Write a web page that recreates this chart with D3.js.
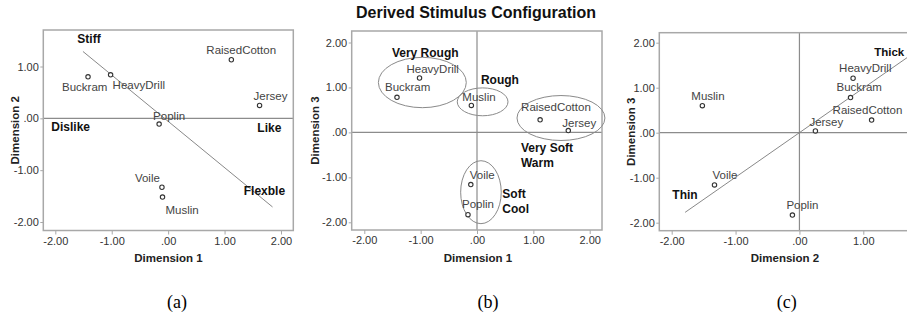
<!DOCTYPE html>
<html>
<head>
<meta charset="utf-8">
<script src="https://cdn.jsdelivr.net/npm/d3@7"></script>
<style>
  html, body { margin: 0; padding: 0; background: #fff; }
  svg { display: block; }
</style>
</head>
<body>
<svg id="chart" width="907" height="317"></svg>
<script>
// ---------------- DATA ----------------
const fabrics = ["Buckram", "HeavyDrill", "RaisedCotton", "Jersey", "Poplin", "Voile", "Muslin"];
const dim1 = [-1.42, -1.02, 1.12, 1.62, -0.16, -0.11, -0.10];
const dim2 = [0.80, 0.84, 1.13, 0.25, -0.11, -1.33, -1.52];
const dim3 = [0.78, 1.21, 0.28, 0.04, -1.83, -1.16, 0.60];

const tickValues = [-2, -1, 0, 1, 2];
const tickLabels = ["-2.00", "-1.00", ".00", "1.00", "2.00"];

// annotation words (data coordinates of their left/middle anchor)
const annotA = [
  { text: "Stiff",   x: -1.61, y: 1.53 },
  { text: "Dislike", x: -2.07, y: -0.17 },
  { text: "Like",    x: 1.58,  y: -0.19 },
  { text: "Flexble", x: 1.34,  y: -1.40 }
];
const annotB = [
  { text: "Very Rough", x: -1.51, y: 1.76 },
  { text: "Rough",      x: 0.07,  y: 1.16 },
  { text: "Very Soft",  x: 0.78,  y: -0.35 },
  { text: "Warm",       x: 0.78,  y: -0.68 },
  { text: "Soft",       x: 0.45,  y: -1.37 },
  { text: "Cool",       x: 0.45,  y: -1.70 }
];
const annotC = [
  { text: "Thin",  x: -1.99, y: -1.38 },
  { text: "Thick", x: 1.17,  y: 1.80 }
];
// group ellipses in panel (b), data units
const ellipsesB = [
  { cx: -0.97, cy: 1.11, rx: 0.78, ry: 0.56 },
  { cx: 0.10,  cy: 0.68, rx: 0.45, ry: 0.31 },
  { cx: 1.49,  cy: 0.32, rx: 0.78, ry: 0.50 },
  { cx: 0.07,  cy: -1.33, rx: 0.36, ry: 0.70 }
];
// fitted direction lines (data units)
const lineA = [[-1.51, 1.29], [1.85, -1.71]];
const lineC = [[-1.79, -1.77], [1.95, 1.93]];

// ---------------- LAYOUT ----------------
// label offsets in px per panel: [dx, dy]
const offA = { Buckram: [-26, 10], HeavyDrill: [2, 10], RaisedCotton: [-25, -10], Jersey: [-6, -9],
               Poplin: [-6, -8], Voile: [-27, -9], Muslin: [3, 13] };
const offB = { Buckram: [-12, -10], HeavyDrill: [-13, -9], RaisedCotton: [-19, -13], Jersey: [-6, -8],
               Poplin: [-6, -11], Voile: [-1, -10], Muslin: [-9, -8] };
const offC = { Buckram: [-14, -11], HeavyDrill: [-14, -10], RaisedCotton: [-39, -10], Jersey: [-6, -9],
               Poplin: [-6, -10], Voile: [-2, -10], Muslin: [-11, -10] };

const panels = [
  { xs: dim1, ys: dim2, xTitle: "Dimension 1", yTitle: "Dimension 2", caption: "(a)",
    xDom: [-2, 2], xRange: [55.3, 281], yDom: [-2, 1], yRange: [222, 66.5],
    frame: { l: 43.3, r: 293.3, t: 30, b: 230.5 }, xTicks: [-2, -1, 0, 1, 2], yTicks: [-2, -1, 0, 1],
    xTitleX: 168.5, yTitleX: 15, captionX: 177, vZero: false, annot: annotA, off: offA, line: lineA, ellipses: [] },
  { xs: dim1, ys: dim3, xTitle: "Dimension 1", yTitle: "Dimension 3", caption: "(b)",
    xDom: [-2, 2], xRange: [364.3, 589.7], yDom: [-2, 2], yRange: [222.3, 42.5],
    frame: { l: 351.7, r: 602, t: 31, b: 230 }, xTicks: [-2, -1, 0, 1, 2], yTicks: [-2, -1, 0, 1, 2],
    xTitleX: 478, yTitleX: 315, captionX: 488, vZero: true, annot: annotB, off: offB, line: null, ellipses: ellipsesB },
  { xs: dim2, ys: dim3, xTitle: "Dimension 2", yTitle: "Dimension 3", caption: "(c)",
    xDom: [-2, 1], xRange: [671.7, 863.3], yDom: [-2, 2], yRange: [222.7, 42.7],
    frame: { l: 659.3, r: 945, t: 32.7, b: 230.7 }, xTicks: [-2, -1, 0, 1], yTicks: [-2, -1, 0, 1, 2],
    xTitleX: 785, yTitleX: 630.5, captionX: 786.7, vZero: true, annot: annotC, off: offC, line: lineC, ellipses: [] }
];

const svg = d3.select("#chart");
svg.append("rect").attr("width", 907).attr("height", 317).attr("fill", "#fff");

const SANS = "Arial, 'Liberation Sans', Helvetica, sans-serif";
const FRAME = "#a8a8a8";
const REF = "#8c8c8c";

// title
svg.append("text")
  .attr("x", 476).attr("y", 17.5)
  .attr("text-anchor", "middle")
  .attr("font-family", SANS).attr("font-weight", "bold").attr("font-size", 16)
  .attr("fill", "#111")
  .text("Derived Stimulus Configuration");

const fmt = v => tickLabels[tickValues.indexOf(v)];

panels.forEach(p => {
  const x = d3.scaleLinear().domain(p.xDom).range(p.xRange);
  const y = d3.scaleLinear().domain(p.yDom).range(p.yRange);
  const g = svg.append("g");
  const f = p.frame;

  // zero reference lines
  g.append("line")
    .attr("x1", f.l).attr("x2", f.r).attr("y1", y(0)).attr("y2", y(0))
    .attr("stroke", REF).attr("stroke-width", 1.2);
  if (p.vZero) {
    g.append("line")
      .attr("x1", x(0)).attr("x2", x(0)).attr("y1", f.t).attr("y2", f.b)
      .attr("stroke", REF).attr("stroke-width", 1.2);
  }

  // frame
  g.append("rect")
    .attr("x", f.l).attr("y", f.t).attr("width", f.r - f.l).attr("height", f.b - f.t)
    .attr("fill", "none").attr("stroke", FRAME).attr("stroke-width", 1.5);

  // axes
  const xAxis = g.append("g").attr("transform", `translate(0,${f.b})`)
    .call(d3.axisBottom(x).tickValues(p.xTicks).tickFormat(fmt).tickSize(4).tickPadding(2.5));
  const yAxis = g.append("g").attr("transform", `translate(${f.l},0)`)
    .call(d3.axisLeft(y).tickValues(p.yTicks).tickFormat(fmt).tickSize(3).tickPadding(1.5));
  [xAxis, yAxis].forEach(a => {
    a.select(".domain").remove();
    a.selectAll(".tick line").attr("stroke", FRAME).attr("stroke-width", 1);
    a.selectAll(".tick text").attr("font-family", SANS).attr("font-size", 11).attr("fill", "#333");
  });

  // axis titles
  g.append("text")
    .attr("x", p.xTitleX).attr("y", 262)
    .attr("text-anchor", "middle")
    .attr("font-family", SANS).attr("font-weight", "bold").attr("font-size", 11.5)
    .attr("fill", "#222")
    .text(p.xTitle);
  g.append("text")
    .attr("transform", `translate(${p.yTitleX},${(f.t + f.b) / 2}) rotate(-90)`)
    .attr("dy", "0.35em")
    .attr("text-anchor", "middle")
    .attr("font-family", SANS).attr("font-weight", "bold").attr("font-size", 11.5)
    .attr("fill", "#222")
    .text(p.yTitle);

  // caption
  g.append("text")
    .attr("x", p.captionX).attr("y", 308)
    .attr("text-anchor", "middle")
    .attr("font-family", "'Liberation Serif', 'Times New Roman', serif").attr("font-size", 18)
    .attr("fill", "#000")
    .text(p.caption);

  // ellipses
  g.selectAll("ellipse.grp").data(p.ellipses).enter().append("ellipse")
    .attr("cx", d => x(d.cx)).attr("cy", d => y(d.cy))
    .attr("rx", d => Math.abs(x(d.rx) - x(0))).attr("ry", d => Math.abs(y(d.ry) - y(0)))
    .attr("fill", "none").attr("stroke", "#8a8a8a").attr("stroke-width", 1);

  // direction line
  if (p.line) {
    g.append("line")
      .attr("x1", x(p.line[0][0])).attr("y1", y(p.line[0][1]))
      .attr("x2", x(p.line[1][0])).attr("y2", y(p.line[1][1]))
      .attr("stroke", "#7a7a7a").attr("stroke-width", 0.9);
  }

  // points
  const pts = fabrics.map((name, i) => ({ name, vx: p.xs[i], vy: p.ys[i] }));
  g.selectAll("circle.pt").data(pts).enter().append("circle")
    .attr("cx", d => x(d.vx)).attr("cy", d => y(d.vy)).attr("r", 2.2)
    .attr("fill", "#fff").attr("stroke", "#333").attr("stroke-width", 1.1);

  // point labels
  g.selectAll("text.lbl").data(pts).enter().append("text")
    .attr("x", d => x(d.vx) + p.off[d.name][0])
    .attr("y", d => y(d.vy) + p.off[d.name][1])
    .attr("dy", "0.35em")
    .attr("font-family", SANS).attr("font-size", 11.5)
    .attr("fill", "#444")
    .text(d => d.name);

  // annotations
  g.selectAll("text.ann").data(p.annot).enter().append("text")
    .attr("x", d => x(d.x)).attr("y", d => y(d.y))
    .attr("dy", "0.35em")
    .attr("font-family", SANS).attr("font-weight", "bold")
    .attr("font-size", d => d.text === "Thick" ? 11.5 : 12)
    .attr("fill", "#111")
    .text(d => d.text);
});
</script>
</body>
</html>
